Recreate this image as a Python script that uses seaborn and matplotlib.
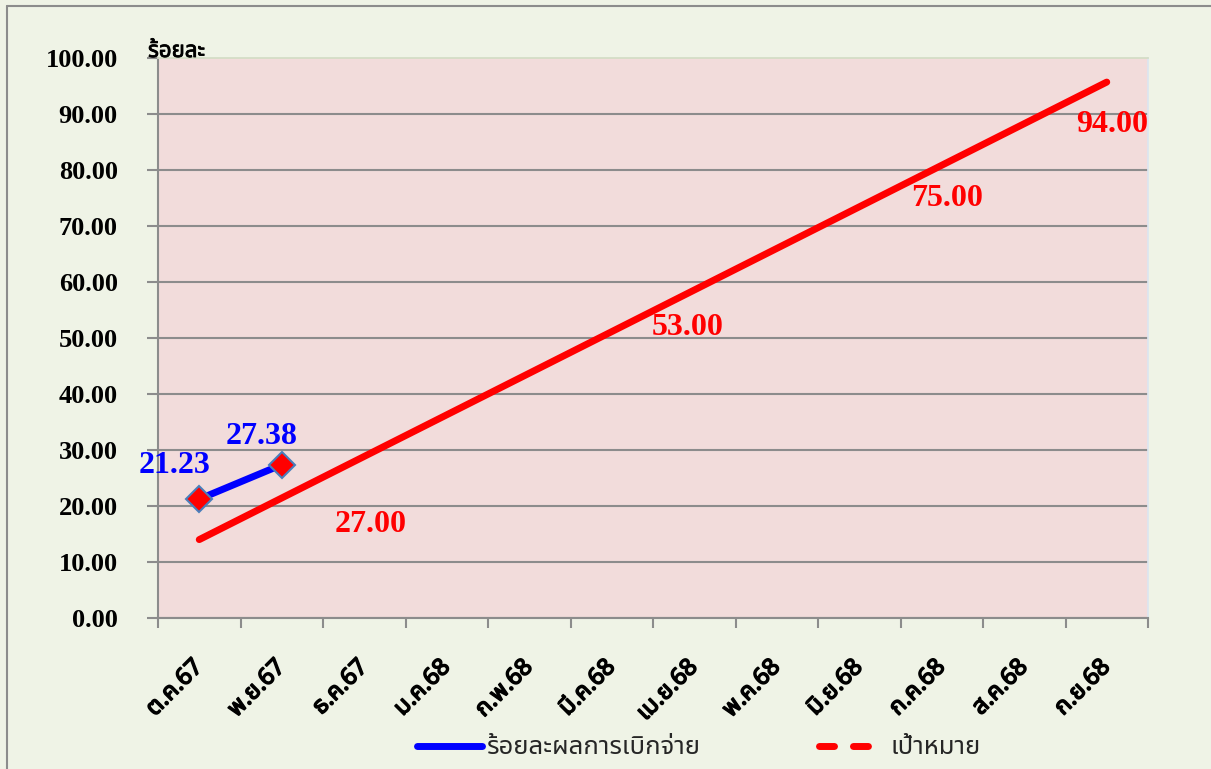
import matplotlib
matplotlib.use("Agg")
import numpy as np
import pandas as pd
import seaborn as sns
from matplotlib import pyplot as plt
from matplotlib import font_manager
from matplotlib import patheffects as pe
from matplotlib.ft2font import FT2Font
from matplotlib.lines import Line2D

# data
months = ["ต.ค.67", "พ.ย.67", "ธ.ค.67", "ม.ค.68", "ก.พ.68", "มี.ค.68",
          "เม.ย.68", "พ.ค.68", "มิ.ย.68", "ก.ค.68", "ส.ค.68", "ก.ย.68"]
actual_months = ["ต.ค.67", "พ.ย.67"]
actual_values = [21.23, 27.38]
target_months = ["ต.ค.67", "ก.ย.68"]
target_values = [14.0, 95.7]
target_label_months = ["ธ.ค.67", "เม.ย.68", "ก.ค.68", "ก.ย.68"]
target_label_values = [27.00, 53.00, 75.00, 94.00]
yticks = np.arange(0, 101, 10)

series_names = ["ร้อยละผลการเบิกจ่าย", "เป้าหมาย"]
y_title = "ร้อยละ"

# find a font that has Thai glyphs
thai = []
for f in font_manager.fontManager.ttflist:
    try:
        if 0x0E23 in FT2Font(f.fname).get_charmap():
            thai.append(f.name)
    except Exception:
        pass
thai = sorted(set(thai))
pref = ["Noto Sans Thai", "Noto Sans Thai UI", "Noto Serif Thai", "Tahoma", "Loma", "Garuda", "Norasi"]
thai_font = next((p for p in pref if p in thai), thai[0] if thai else "DejaVu Sans")

sns.set_theme(style="white")
plt.rcParams["font.family"] = ["Liberation Serif", thai_font, "DejaVu Sans"]

W, H = 1211, 769
fig = plt.figure(figsize=(W / 100, H / 100), dpi=100, facecolor="#EFF3E6")
ax = fig.add_axes([158 / W, 1 - 618 / H, 990 / W, 560 / H])
ax.set_facecolor("#F2DCDB")

tx = [months.index(m) for m in target_months]
axx = [months.index(m) for m in actual_months]

sns.lineplot(x=tx, y=target_values, color="red", lw=5, ax=ax,
             solid_capstyle="round", zorder=3)
sns.lineplot(x=axx, y=actual_values, color="blue", lw=5, ax=ax, marker="D",
             markersize=13, markerfacecolor="red", markeredgecolor="#4A7EBB",
             mew=1.5, solid_capstyle="round", zorder=4)

ax.set_xlim(-0.5, 11.5)
ax.set_ylim(0, 100)

# y axis
ax.set_yticks(yticks)
ax.set_yticklabels([f"{v:.2f}" for v in yticks], fontsize=19, fontweight="bold",
                   family="Liberation Serif", color="black")
ax.tick_params(axis="y", length=8, width=1.5, color="#8C8C8C", pad=21, left=True)
ax.yaxis.grid(True, color="#8C8C8C", lw=1.5)
ax.xaxis.grid(False)
ax.set_axisbelow(True)
ax.get_ygridlines()[-1].set_visible(False)

# x axis
bold_fx = [pe.withStroke(linewidth=1.1, foreground="black")]
ax.set_xticks(range(len(months)))
ax.set_xticklabels(months, rotation=45, ha="right", va="center",
                   rotation_mode="anchor", fontsize=17, fontweight="bold",
                   family=[thai_font, "DejaVu Sans"], color="black")
for lab in ax.get_xticklabels():
    lab.set_path_effects(bold_fx)
ax.set_xticks(np.arange(-0.5, len(months), 1), minor=True)
ax.tick_params(axis="x", which="major", length=0, pad=33)
ax.tick_params(axis="x", which="minor", length=7.5, width=1.5, color="#8C8C8C", bottom=True)

for side in ["left", "bottom"]:
    ax.spines[side].set_color("#8C8C8C")
    ax.spines[side].set_linewidth(1.5)
ax.spines["top"].set_color("#D3DCC5")
ax.spines["right"].set_color("#DCE6F0")

# data labels
for (m, v), off in zip(zip(actual_months, actual_values), [(-25, 34), (-20, 28)]):
    ax.annotate(f"{v:.2f}", xy=(months.index(m), v), xytext=off,
                textcoords="offset pixels", ha="center", va="center",
                color="blue", fontsize=23, fontweight="bold", family="Liberation Serif")
for (m, v), off in zip(zip(target_label_months, target_label_values),
                       [(6, -58), (-7, -6), (5, 0), (5, -33)]):
    ax.annotate(f"{v:.2f}", xy=(months.index(m), v), xytext=off,
                textcoords="offset pixels", ha="center", va="center",
                color="red", fontsize=23, fontweight="bold", family="Liberation Serif")

fig.text(148 / W, 1 - 57 / H, y_title, ha="left", va="baseline", fontsize=16,
         fontweight="bold", family=[thai_font, "DejaVu Sans"], color="black",
         path_effects=[pe.withStroke(linewidth=0.6, foreground="black")])

# legend
handles = [Line2D([], [], color="blue", lw=5, solid_capstyle="round"),
           Line2D([], [], color="red", lw=5, ls=(0, (2.16, 2.73)), dash_capstyle="round")]
fig.legend(handles, series_names, loc="center left",
           bbox_to_anchor=(416.5 / W, 1 - 748 / H), ncol=2, frameon=False,
           prop={"family": [thai_font, "DejaVu Sans"], "size": 18.5},
           handlelength=2.55, handletextpad=0.2, columnspacing=4.6,
           borderpad=0, borderaxespad=0)

# outer frame (left and top edges visible)
fig.add_artist(Line2D([7 / W, 7 / W], [0, 1 - 6 / H], transform=fig.transFigure,
                      color="#8C8C8C", lw=1.5))
fig.add_artist(Line2D([7 / W, 1], [1 - 6 / H, 1 - 6 / H], transform=fig.transFigure,
                      color="#8C8C8C", lw=1.5))

fig.savefig("out.png", dpi=100, facecolor=fig.get_facecolor())
